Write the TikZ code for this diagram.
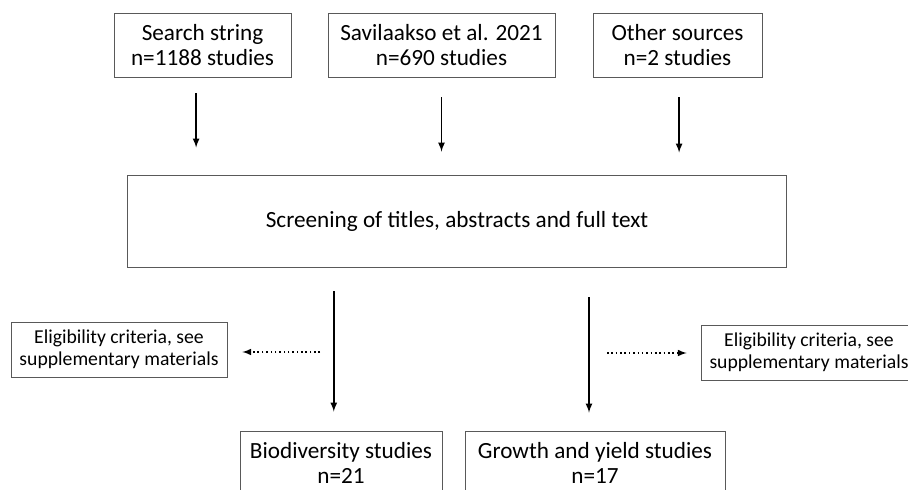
\documentclass[tikz,border=0pt]{standalone}
\usepackage{fontspec}
\setmainfont{Carlito}
\usetikzlibrary{arrows}

\begin{document}
\begin{tikzpicture}[x=0.025cm,y=-0.025cm,
        box/.style={draw=black!65,line width=0.6pt,align=center,inner sep=0pt,font=\fontsize{16.5}{18}\selectfont},
        smallbox/.style={box,font=\fontsize{14}{15.5}\selectfont},
        arr/.style={line width=1.2pt,-latex},
        dotarr/.style={dotted,line width=1.1pt,-latex}]
                \clip (0,0) rectangle (908,490);

                \node[box,minimum width=4.425cm,minimum height=1.6cm] (search) at (202.5,45) {Search string\\n=1188 studies};
                \node[box,minimum width=5.675cm,minimum height=1.6cm] (savi) at (441.5,45) {Savilaakso et al. 2021\\n=690 studies};
                \node[box,minimum width=4.225cm,minimum height=1.6cm] (other) at (677.5,45) {Other sources\\n=2 studies};
                \node[box,minimum width=16.45cm,minimum height=2.3cm] (screen) at (457,221) {Screening of titles, abstracts and full text};
                \node[smallbox,minimum width=5.4cm,minimum height=1.375cm] (elig1) at (119,349.5) {Eligibility criteria, see\\supplementary materials};
                \node[smallbox,minimum width=5.4cm,minimum height=1.375cm] (elig2) at (809,352.5) {Eligibility criteria, see\\supplementary materials};
                \node[box,minimum width=5.05cm,minimum height=1.6cm] (bio) at (341,463) {Biodiversity studies\\n=21};
                \node[box,minimum width=6.5cm,minimum height=1.6cm] (growth) at (595,463) {Growth and yield studies\\n=17};

                \draw[arr,shorten <=0.4cm,shorten >=0.675cm] ([xshift=-0.16cm]search.south) -- ([xshift=-0.16cm]search.south |- screen.north);
                \draw[arr,shorten <=0.5cm,shorten >=0.575cm] (savi.south) -- (savi.south |- screen.north);
                \draw[arr,shorten <=0.5cm,shorten >=0.55cm] ([xshift=0.04cm]other.south) -- ([xshift=0.04cm]other.south |- screen.north);
                \draw[arr,shorten <=0.6cm,shorten >=0.475cm] ([xshift=-0.18cm]bio.north |- screen.south) -- ([xshift=-0.18cm]bio.north);
                \draw[arr,shorten <=0.75cm,shorten >=0.45cm] ([xshift=-0.15cm]growth.north |- screen.south) -- ([xshift=-0.15cm]growth.north);

                \coordinate (dleft) at (320,352);
                \coordinate (dright) at (607,353);
                \draw[dotarr,shorten >=0.375cm] (dleft) -- (dleft -| elig1.east);
                \draw[dotarr,shorten >=0.35cm] (dright) -- (dright -| elig2.west);
            \end{tikzpicture}
\end{document}
